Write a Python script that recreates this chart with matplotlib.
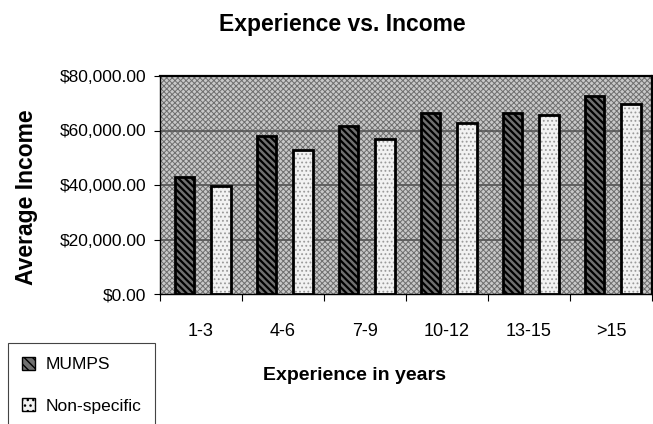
import matplotlib
matplotlib.use("Agg")
import matplotlib.pyplot as plt
import numpy as np
from matplotlib.patches import Patch, Rectangle
from matplotlib.ticker import FixedLocator, FuncFormatter

FONT = ["Liberation Sans", "DejaVu Sans"]

# Data
categories = ["1-3", "4-6", "7-9", "10-12", "13-15", ">15"]
mumps = [43000, 57800, 61600, 66500, 66500, 72800]
non_specific = [39800, 52800, 56800, 62600, 65700, 69600]
y_ticks = [0, 20000, 40000, 60000, 80000]

fig = plt.figure(figsize=(6.53, 4.24), dpi=100)
ax = fig.add_axes([160 / 653, 130 / 424, 492 / 653, 218 / 424])

# halftone-like background of the plot area
ax.set_facecolor("white")
with plt.rc_context({"hatch.linewidth": 0.7}):
    bg = Rectangle((0, 0), 1, 1, transform=ax.transAxes, facecolor="#c8c8c8",
                   edgecolor="#6e6e6e", hatch="xxxxxx", linewidth=0, zorder=0)
    ax.add_patch(bg)

x = np.arange(len(categories))
width = 0.24
off_m, off_n = -0.2, 0.245

with plt.rc_context({"hatch.linewidth": 1.6}):
    # MUMPS: dark diagonal stripes
    ax.bar(x + off_m, mumps, width, color="#707070", edgecolor="black",
           hatch="\\\\\\\\\\", linewidth=0, zorder=3)
with plt.rc_context({"hatch.linewidth": 0.8}):
    # Non-specific: light dotted
    ax.bar(x + off_n, non_specific, width, color="#f2f2f2", edgecolor="#9a9a9a",
           hatch="....", linewidth=0, zorder=3)
ax.bar(x + off_m, mumps, width, facecolor="none", edgecolor="black",
       linewidth=2.0, zorder=4)
ax.bar(x + off_n, non_specific, width, facecolor="none", edgecolor="black",
       linewidth=2.0, zorder=4)

ax.set_xlim(-0.5, len(categories) - 0.5)
ax.set_ylim(0, 80000)

# gridlines
for yv in y_ticks[1:-1]:
    ax.axhline(yv, color="#555555", linewidth=1.2, zorder=2)

ax.set_yticks(y_ticks)
ax.yaxis.set_major_formatter(FuncFormatter(lambda v, p: f"${v:,.2f}"))
ax.tick_params(axis="y", length=4, width=0.8, pad=6, labelsize=12.5)
for lab in ax.get_yticklabels():
    lab.set_family(FONT)

ax.set_xticks(x)
ax.set_xticklabels(categories, family=FONT, fontsize=13)
ax.xaxis.set_minor_locator(FixedLocator(np.arange(-0.5, len(categories) + 0.5, 1)))
ax.tick_params(axis="x", which="major", length=0, pad=21)
ax.tick_params(axis="x", which="minor", length=5, width=0.8, direction="out")

for side in ["left", "bottom"]:
    ax.spines[side].set_linewidth(1.0)
    ax.spines[side].set_zorder(5)
for side in ["top", "right"]:
    ax.spines[side].set_linestyle((0, (1, 1)))
    ax.spines[side].set_linewidth(1.6)
    ax.spines[side].set_zorder(5)

fig.text(342 / 653, 1 - 24 / 424, "Experience vs. Income", ha="center", va="center",
         family=FONT, fontweight="bold", fontsize=16.5)
fig.text(354 / 653, 1 - 375 / 424, "Experience in years", ha="center", va="center",
         family=FONT, fontweight="bold", fontsize=14)
fig.text(27 / 653, 1 - 197 / 424, "Average Income", ha="center", va="center",
         rotation=90, family=FONT, fontweight="bold", fontsize=16.5)

handles = [
    Patch(facecolor="#707070", edgecolor="black", hatch="\\\\\\\\", linewidth=1.0),
    Patch(facecolor="#f2f2f2", edgecolor="black", hatch="...", linewidth=1.0),
]
leg = fig.legend(handles, ["MUMPS", "Non-specific"], loc="upper left",
                 bbox_to_anchor=(8 / 653, 1 - 343 / 424), frameon=True,
                 fancybox=False, edgecolor="#444444", framealpha=1,
                 prop={"family": FONT, "size": 12.5}, handlelength=0.75,
                 handleheight=0.75, handletextpad=0.6, labelspacing=1.5,
                 borderpad=0.8, borderaxespad=0)
leg.get_frame().set_linewidth(0.8)

fig.savefig("out.png", dpi=100)
